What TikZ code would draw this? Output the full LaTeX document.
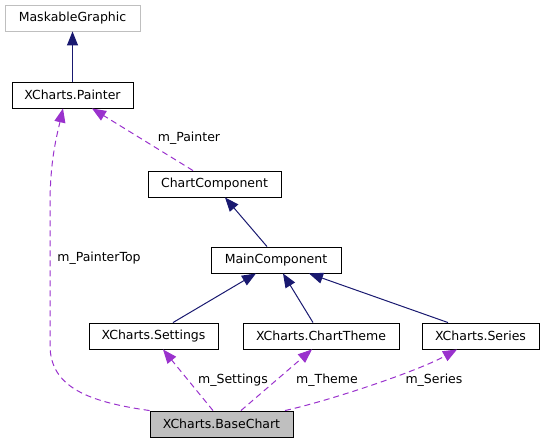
\documentclass[tikz,border=0pt]{standalone}
\usepackage{fontspec}
\setmainfont{DejaVu Sans}
\usetikzlibrary{arrows.meta}
\definecolor{edgeblue}{HTML}{191970}
\definecolor{edgepurple}{HTML}{9A32CD}
\definecolor{boxgray}{HTML}{BFBFBF}
\begin{document}
\begin{tikzpicture}[x=1pt,y=-1pt,
  every node/.style={font=\fontsize{12.5}{14}\selectfont},
  cls/.style={draw=black,line width=0.9pt,fill=white,minimum height=26pt,inner sep=0pt,anchor=center},
  ext/.style={cls,draw=boxgray},
  cur/.style={cls,fill=boxgray},
  inh/.style={draw=edgeblue,line width=1pt,-{Triangle[length=14pt,width=11pt]}},
  use/.style={draw=edgepurple,line width=1pt,dash pattern=on 6pt off 4pt,-{Triangle[length=14pt,width=11pt,fill=edgepurple]}},
  lbl/.style={inner sep=0pt,anchor=center}]
\useasboundingbox (0,0) rectangle (544,444);
\node[ext,minimum width=135pt] (mg) at (72.5,18) {MaskableGraphic};
\node[cls,minimum width=121pt] (painter) at (72.5,95) {XCharts.Painter};
\node[cls,minimum width=133pt] (cc) at (214.5,184) {ChartComponent};
\node[cls,minimum width=130pt] (mc) at (276,260) {MainComponent};
\node[cls,minimum width=129pt] (set) at (153.5,336) {XCharts.Settings};
\node[cls,minimum width=156pt] (theme) at (321,336) {XCharts.ChartTheme};
\node[cls,minimum width=117pt] (ser) at (480.5,336) {XCharts.Series};
\node[cur,minimum width=143pt] (bc) at (221.5,424) {XCharts.BaseChart};

% inheritance
\draw[inh] (painter.north) -- (mg.south);
\draw[inh] ([xshift=-9pt]mc.north) -- ([xshift=10.5pt]cc.south);
\draw[inh] ([xshift=19.5pt]set.north) -- ([xshift=-20pt]mc.south);
\draw[inh] ([xshift=-8pt]theme.north) -- ([xshift=7pt]mc.south);
\draw[inh] ([xshift=-32.5pt]ser.north) -- ([xshift=33pt]mc.south);

% usage
\draw[use] ([xshift=-21.5pt]cc.north) -- ([xshift=19.5pt]painter.south);
\node[lbl] (lp) at (189,138) {m\_Painter};
\draw[use] ([xshift=-8.5pt]bc.north) -- ([xshift=9.5pt]set.south);
\node[lbl] (ls) at (233,380) {m\_Settings};
\draw[use] ([xshift=19.5pt]bc.north) -- ([xshift=-9pt]theme.south);
\node[lbl] (lt) at (327,380) {m\_Theme};
\draw[use] ([xshift=63.5pt]bc.north) .. controls +(45,-10) and +(-40,22) .. ([xshift=-23.5pt]ser.south);
\node[lbl] (lse) at (434,380) {m\_Series};
\draw[use] (bc.north west) .. controls (90,402) and (50,388) .. (50,345)
  -- (50,205) .. controls (50,160) and (57,135) .. ([xshift=-9.5pt]painter.south);
\node[lbl] (lpt) at (99,258) {m\_PainterTop};
\end{tikzpicture}
\end{document}
